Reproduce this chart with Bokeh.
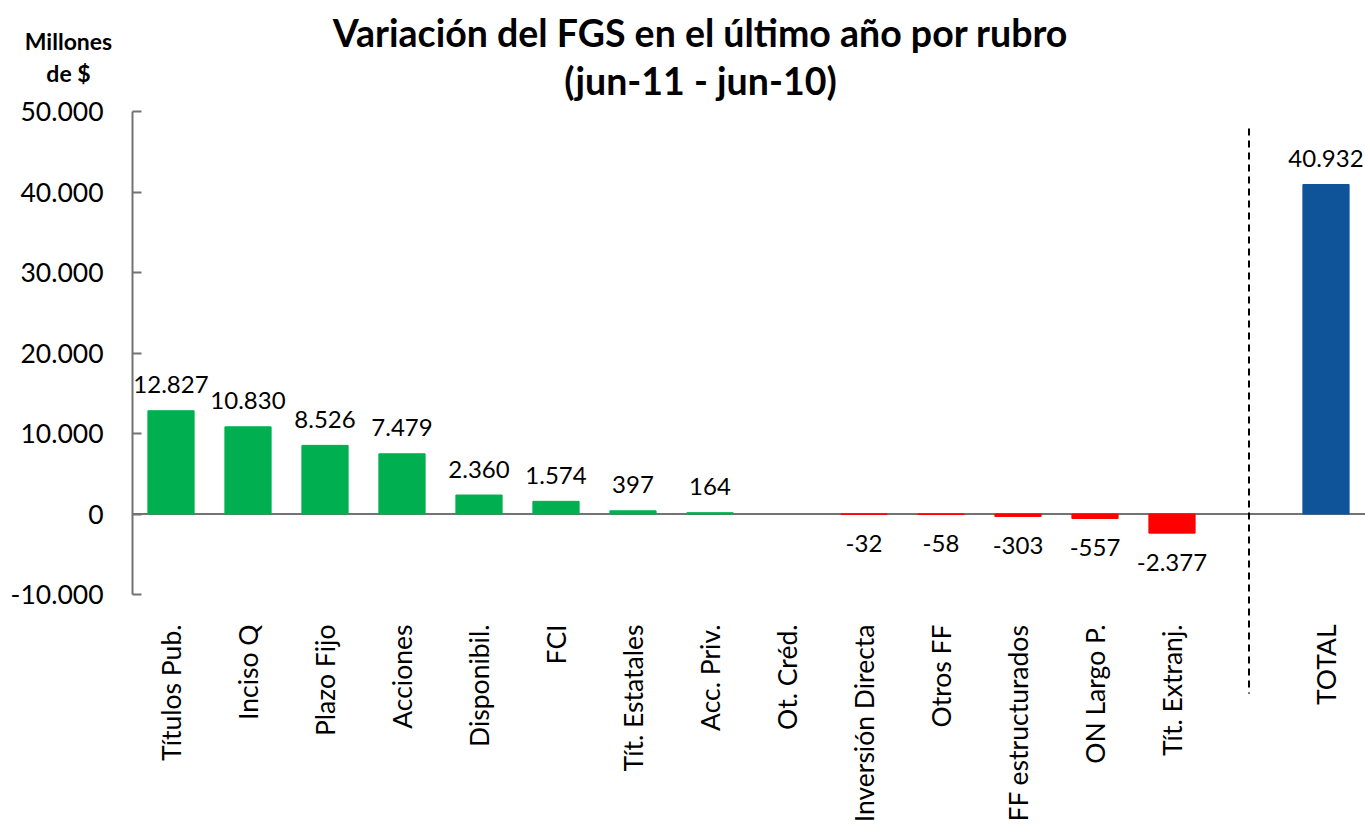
import math
from bokeh.plotting import figure
from bokeh.models import ColumnDataSource, Range1d, FixedTicker
from bokeh.embed import file_html
from bokeh.resources import INLINE
from bokeh.core.properties import value

# ---------------- data ----------------
categories = ["Títulos Pub.", "Inciso Q", "Plazo Fijo", "Acciones", "Disponibil.", "FCI",
              "Tít. Estatales", "Acc. Priv.", "Ot. Créd.", "Inversión Directa", "Otros FF",
              "FF estructurados", "ON Largo P.", "Tít. Extranj."]
variation = [12827, 10830, 8526, 7479, 2360, 1574, 397, 164, 0, -32, -58, -303, -557, -2377]
total_label = "TOTAL"
total_value = 40932
y_ticks = [-10000, 0, 10000, 20000, 30000, 40000, 50000]
y_tick_labels = ["-10.000", "0", "10.000", "20.000", "30.000", "40.000", "50.000"]
title_lines = ["Variación del FGS en el último año por rubro", "(jun-11 - jun-10)"]
unit_lines = ["Millones", "de $"]

# ---------------- style / layout ----------------
GREEN, RED, BLUE = "#00B050", "#FF0000", "#0F5499"
AXIS_GRAY = "#737373"
FONT = "Lato"
W, H = 1365, 832
PLOT_LEFT, SLOT = 132, 77          # pixel position of the category axis start, slot width
Y_TOP_PX, Y_BOT_PX = 111, 594      # pixel rows of 50.000 and -10.000
YMIN, YMAX = y_ticks[0], y_ticks[-1]


def dx(px):
    return (px - PLOT_LEFT) / SLOT


def dy(py):
    return YMAX - (py - Y_TOP_PX) * (YMAX - YMIN) / (Y_BOT_PX - Y_TOP_PX)


p = figure(x_range=Range1d(dx(0), dx(W)), y_range=Range1d(dy(H), dy(0)),
           width=W, height=H, output_backend="svg", toolbar_location=None,
           min_border=0, min_border_left=0, min_border_right=0, min_border_top=0, min_border_bottom=0,
           outline_line_color=None, background_fill_color="white", border_fill_color="white")
p.title.visible = False
p.xgrid.visible = False
p.ygrid.visible = False

# slots: categories, an empty gap slot, TOTAL
n = len(categories)
cat_x = [i + 0.5 for i in range(n)]
gap_x = n + 0.5
total_x = n + 1.5

all_x = cat_x + [total_x]
all_v = variation + [total_value]
all_c = [GREEN if v >= 0 else RED for v in variation] + [BLUE]
bars = [(x, v, c) for x, v, c in zip(all_x, all_v, all_c) if v != 0]

# zero line (drawn beneath bars)
p.segment(x0=[0], y0=[0], x1=[dx(W)], y1=[0], line_color=AXIS_GRAY, line_width=2)

src = ColumnDataSource(dict(x=[b[0] for b in bars], top=[b[1] for b in bars], color=[b[2] for b in bars]))
p.vbar(x="x", top="top", bottom=0, width=0.6, source=src,
       fill_color="color", line_color="color", line_width=1)

# dashed separator
p.segment(x0=[gap_x], y0=[dy(128)], x1=[gap_x], y1=[dy(693)],
          line_color="black", line_width=2, line_dash="7 5")


def fmt(v):
    return f"{v:,}".replace(",", ".")


pos = [(x, v) for x, v, _ in bars if v > 0]
neg = [(x, v) for x, v, _ in bars if v < 0]
psrc = ColumnDataSource(dict(x=[a for a, _ in pos], y=[b for _, b in pos], t=[fmt(b) for _, b in pos]))
nsrc = ColumnDataSource(dict(x=[a for a, _ in neg], y=[b for _, b in neg], t=[fmt(b) for _, b in neg]))
p.text(x="x", y="y", text="t", source=psrc, text_align="center", text_baseline="alphabetic",
       y_offset=-26, text_font=value(FONT), text_font_size=value("24px"), text_color="black")
p.text(x="x", y="y", text="t", source=nsrc, text_align="center", text_baseline="top",
       y_offset=21, text_font=value(FONT), text_font_size=value("24px"), text_color="black")

# y axis
yax = p.yaxis[0]
yax.fixed_location = 0
yax.bounds = (YMIN, YMAX)
yax.ticker = FixedTicker(ticks=y_ticks)
yax.major_label_overrides = {t: l for t, l in zip(y_ticks, y_tick_labels)}
yax.minor_tick_line_color = None
yax.major_tick_in = 9
yax.major_tick_out = 0
yax.major_tick_line_color = AXIS_GRAY
yax.major_tick_line_width = 2
yax.axis_line_color = AXIS_GRAY
yax.axis_line_width = 2
yax.major_label_standoff = 29
yax.major_label_text_font = FONT
yax.major_label_text_font_size = "26.5px"
yax.major_label_text_color = "black"

# x (category) axis, placed below the -10.000 level
xax = p.xaxis[0]
xax.fixed_location = YMIN
tick_x = cat_x + [total_x]
tick_lab = categories + [total_label]
xax.ticker = FixedTicker(ticks=tick_x)
xax.major_label_overrides = {t: l for t, l in zip(tick_x, tick_lab)}
xax.axis_line_color = None
xax.major_tick_line_color = None
xax.minor_tick_line_color = None
xax.major_tick_in = 0
xax.major_tick_out = 0
xax.major_label_orientation = math.pi / 2
xax.major_label_standoff = 30
xax.major_label_text_font = FONT
xax.major_label_text_font_size = "26.5px"
xax.major_label_text_color = "black"

# titles
p.text(x=[dx(700)] * 2, y=[dy(32), dy(80)], text=title_lines, text_align="center",
       text_baseline="middle", text_font=value(FONT), text_font_style="bold",
       text_font_size=value("37.5px"), text_color="black")
p.text(x=[dx(68)] * 2, y=[dy(40), dy(72)], text=unit_lines, text_align="center",
       text_baseline="middle", text_font=value(FONT), text_font_style="bold",
       text_font_size=value("23px"), text_color="black")

open("out.html", "w").write(file_html(p, INLINE))
